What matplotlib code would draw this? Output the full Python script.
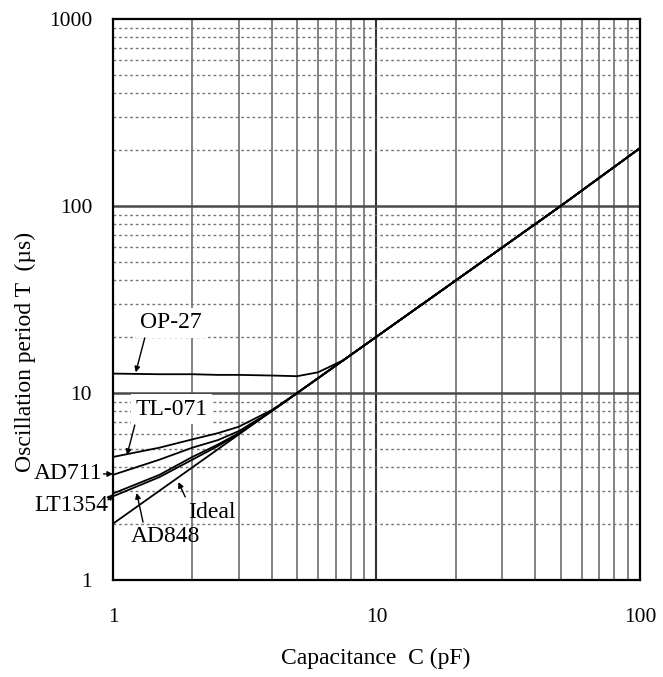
import matplotlib
matplotlib.use("Agg")
import matplotlib.pyplot as plt
import numpy as np

# capacitance (pF) and oscillation period (us)
cap = [1, 1.5, 2, 2.5, 3, 4, 5, 6, 7.5, 10, 20, 50, 100]
ideal = [2.0, 3.0, 4.0, 5.0, 6.0, 8.0, 10.0, 12.0, 15.0, 20.0, 40.0, 100.0, 204.0]
op27 = [12.7, 12.6, 12.6, 12.5, 12.5, 12.4, 12.3, 12.9, 15.0, 20.0, 40.0, 100.0, 204.0]
tl071 = [4.55, 5.1, 5.65, 6.1, 6.6, 8.1, 10.0, 12.0, 15.0, 20.0, 40.0, 100.0, 204.0]
ad711 = [3.65, 4.4, 5.1, 5.6, 6.25, 8.0, 10.0, 12.0, 15.0, 20.0, 40.0, 100.0, 204.0]
lt1354 = [2.9, 3.65, 4.55, 5.3, 6.1, 8.0, 10.0, 12.0, 15.0, 20.0, 40.0, 100.0, 204.0]
ad848 = [2.8, 3.55, 4.4, 5.2, 6.05, 8.0, 10.0, 12.0, 15.0, 20.0, 40.0, 100.0, 204.0]

x_ticks = [1, 10, 100]
y_ticks = [1, 10, 100, 1000]

plt.rcParams['font.family'] = ['Liberation Serif', 'DejaVu Serif']

W, H = 663, 677
fig = plt.figure(figsize=(W / 100, H / 100), dpi=100)
ax = fig.add_axes([113 / W, 1 - 580 / H, 527 / W, 561 / H])
ax.set_xscale('log')
ax.set_yscale('log')
ax.set_xlim(1, 100)
ax.set_ylim(1, 1000)

# graph paper grid
for dec in [1, 10]:
    for m in range(2, 10):
        ax.axvline(dec * m, color='#6e6e6e', lw=1.2, zorder=1)
ax.axvline(10, color='#333333', lw=1.5, zorder=1)
for dec in [1, 10, 100]:
    for m in range(2, 10):
        ax.axhline(dec * m, color='#777777', lw=1.0, ls=(0, (2, 2)), zorder=1)
for v in [10, 100]:
    ax.axhline(v, color='#4a4a4a', lw=1.8, zorder=1)

for s in [ideal, op27, tl071, ad711, lt1354, ad848]:
    ax.plot(cap, s, color='black', lw=1.3, zorder=3)

ax.set_xticks(x_ticks)
ax.set_xticklabels([str(t) for t in x_ticks])
ax.set_yticks(y_ticks)
ax.set_yticklabels([str(t) for t in y_ticks])
ax.minorticks_off()
ax.tick_params(axis='both', length=0, labelsize=15.5)
ax.tick_params(axis='x', pad=20)
ax.tick_params(axis='y', pad=15)
for sp in ax.spines.values():
    sp.set_linewidth(1.6)

fig.text(376 / W, 1 - 658 / H, 'Capacitance  C (pF)', ha='center', va='center', fontsize=17)
fig.text(25 / W, 1 - 352 / H, 'Oscillation period T  (\u00b5s)', ha='center', va='center',
         rotation=90, fontsize=17)

box = dict(facecolor='white', edgecolor='none', pad=3)
arrow = dict(arrowstyle='-|>', color='black', lw=1.0, mutation_scale=8, shrinkA=0, shrinkB=0)

ax.text(1.66, 23.7, 'OP-27', ha='center', va='center', fontsize=17, bbox=box, zorder=4)
ax.annotate('', xy=(1.22, 12.9), xytext=(1.32, 19.7), arrowprops=arrow, zorder=5)

ax.text(1.67, 8.2, 'TL-071', ha='center', va='center', fontsize=17, bbox=box, zorder=4)
ax.annotate('', xy=(1.13, 4.66), xytext=(1.21, 6.74), arrowprops=arrow, zorder=5)

ax.text(0.915, 3.69, 'AD711', ha='right', va='center', fontsize=17, clip_on=False)
ax.annotate('', xy=(1.0, 3.69), xytext=(0.92, 3.69), arrowprops=arrow, annotation_clip=False)

ax.text(0.957, 2.49, 'LT1354', ha='right', va='center', fontsize=17, clip_on=False)
ax.annotate('', xy=(1.0, 2.88), xytext=(0.957, 2.68), arrowprops=arrow, annotation_clip=False)

ax.text(1.575, 1.70, 'AD848', ha='center', va='center', fontsize=17, zorder=4)
ax.annotate('', xy=(1.23, 2.92), xytext=(1.30, 2.04), arrowprops=arrow, zorder=5)

ax.text(2.38, 2.31, 'Ideal', ha='center', va='center', fontsize=17, zorder=4)
ax.annotate('', xy=(1.77, 3.34), xytext=(1.88, 2.78), arrowprops=arrow, zorder=5)

fig.savefig('out.png', dpi=100)
